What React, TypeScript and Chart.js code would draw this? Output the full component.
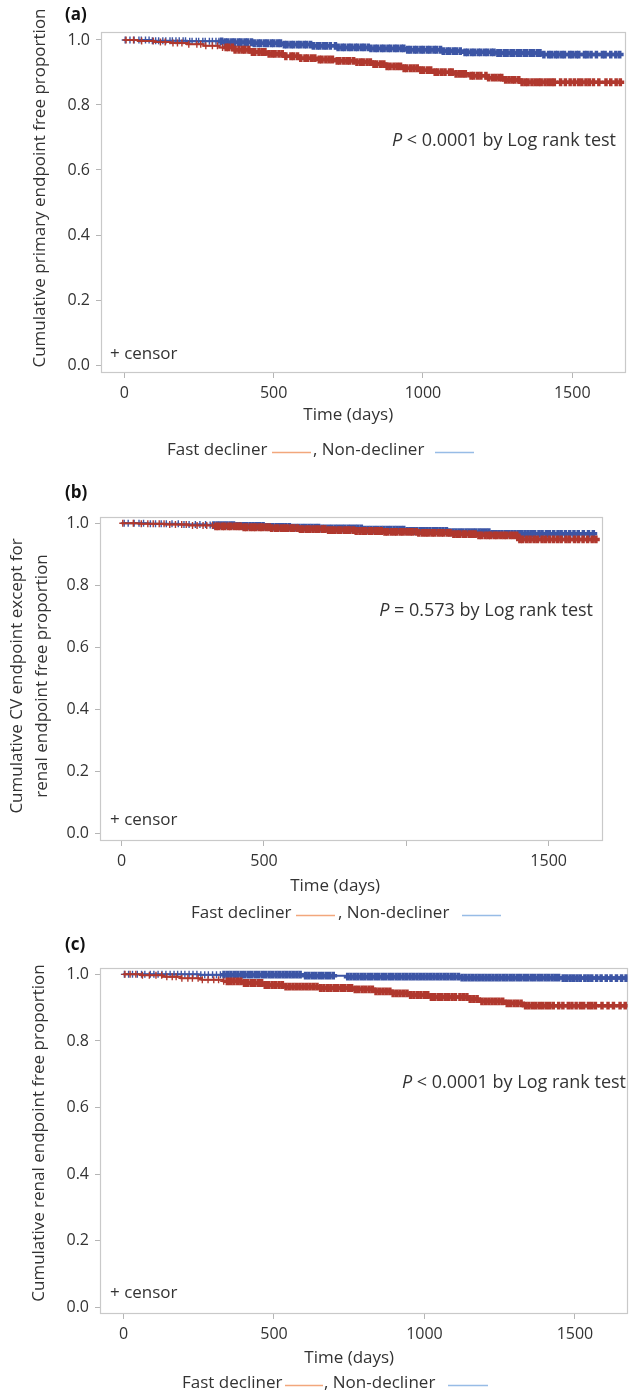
import React, { useEffect, useRef } from 'react';
import { Chart, registerables } from 'chart.js';
Chart.register(...registerables);

const FONT = '"Open Sans", "Noto Sans", sans-serif';
const TEXT = '#333333';
const RED = '#b0382e';
const BLUE = '#3c55a5';
const LEG_RED = '#f2a77c';
const LEG_BLUE = '#97bce6';
const BOX = '#c9c9c9';
const TICK = '#b5b5b5';

// ---- tick values / labels ----
const yTickValues = [0, 0.2, 0.4, 0.6, 0.8, 1.0];
const xTickValues = [0, 500, 1000, 1500];
const xTickLabelsAC = ['0', '500', '1000', '1500'];
const xTickLabelsB = ['0', '500', '', '1500'];

// ---- Panel (a): primary endpoint ----
const aFastTime = [0, 45, 100, 155, 210, 265, 318, 365, 425, 485, 530, 585, 640, 700, 770, 830, 880, 930, 985, 1040, 1100, 1160, 1215, 1275, 1330, 1665];
const aFastSurv = [1.0, 0.997, 0.994, 0.991, 0.987, 0.982, 0.977, 0.97, 0.963, 0.957, 0.95, 0.944, 0.94, 0.936, 0.932, 0.926, 0.919, 0.913, 0.907, 0.901, 0.896, 0.89, 0.884, 0.877, 0.87, 0.87];
const aNonTime = [0, 90, 210, 330, 430, 530, 630, 710, 820, 940, 1060, 1130, 1250, 1400, 1660];
const aNonSurv = [1.0, 0.998, 0.996, 0.993, 0.99, 0.986, 0.982, 0.977, 0.974, 0.97, 0.966, 0.962, 0.96, 0.955, 0.955];
const aFastCensor = [6, 31, 58, 97, 121, 137, 163, 178, 193, 216, 243, 256, 273, 295, 312, 329, 341, 349, 362, 371, 384, 396, 404, 417, 429, 437, 451, 462, 471, 485, 496, 505, 518, 529, 541, 558, 567, 580, 591, 605, 614, 627, 638, 653, 662, 675, 686, 697, 713, 722, 735, 746, 755, 768, 779, 791, 800, 813, 824, 836, 845, 858, 869, 880, 890, 903, 914, 925, 937, 946, 959, 970, 981, 993, 1002, 1015, 1026, 1041, 1050, 1063, 1074, 1089, 1098, 1111, 1122, 1133, 1142, 1161, 1170, 1183, 1194, 1211, 1220, 1233, 1244, 1255, 1264, 1277, 1288, 1299, 1308, 1321, 1332, 1343, 1352, 1365, 1376, 1387, 1396, 1409, 1420, 1431, 1440, 1461, 1477, 1493, 1507, 1521, 1532, 1546, 1557, 1571, 1589, 1613, 1629, 1647, 1661];
const aNonCensor = [3, 19, 33, 49, 57, 71, 83, 94, 105, 115, 129, 139, 153, 161, 173, 184, 197, 205, 219, 227, 241, 249, 263, 271, 285, 295, 307, 317, 326, 338, 347, 360, 369, 382, 391, 404, 413, 426, 435, 448, 457, 470, 479, 492, 501, 514, 523, 536, 545, 558, 567, 580, 589, 602, 611, 624, 633, 646, 655, 668, 677, 690, 707, 716, 729, 738, 751, 760, 773, 782, 795, 804, 817, 826, 839, 848, 861, 870, 883, 892, 905, 914, 927, 936, 949, 958, 971, 980, 993, 1002, 1015, 1024, 1037, 1046, 1059, 1068, 1081, 1090, 1103, 1112, 1125, 1141, 1150, 1163, 1172, 1185, 1194, 1207, 1216, 1229, 1238, 1251, 1260, 1273, 1282, 1295, 1304, 1317, 1326, 1339, 1348, 1361, 1370, 1383, 1392, 1405, 1421, 1430, 1443, 1452, 1465, 1474, 1491, 1500, 1513, 1522, 1541, 1550, 1563, 1581, 1601, 1610, 1629, 1646, 1659];

// ---- Panel (b): CV endpoint except renal ----
const bFastTime = [0, 60, 150, 235, 330, 420, 520, 620, 720, 820, 925, 1040, 1160, 1250, 1395, 1668];
const bFastSurv = [1.0, 0.998, 0.996, 0.993, 0.99, 0.987, 0.984, 0.981, 0.978, 0.975, 0.972, 0.969, 0.965, 0.961, 0.948, 0.948];
const bNonTime = [0, 100, 200, 300, 400, 500, 600, 700, 850, 1000, 1150, 1300, 1668];
const bNonSurv = [1.0, 0.998, 0.996, 0.994, 0.991, 0.988, 0.986, 0.983, 0.979, 0.975, 0.971, 0.966, 0.966];
const bFastCensor = [4, 41, 69, 92, 111, 132, 149, 169, 189, 211, 227, 249, 265, 286, 299, 319, 331, 340, 353, 362, 375, 384, 397, 408, 417, 430, 439, 452, 463, 472, 485, 494, 507, 518, 527, 540, 549, 562, 573, 582, 595, 604, 617, 628, 637, 650, 659, 672, 683, 692, 705, 714, 727, 738, 747, 760, 769, 782, 793, 802, 815, 824, 837, 848, 857, 870, 879, 892, 903, 912, 925, 934, 947, 958, 967, 980, 989, 1002, 1013, 1022, 1035, 1044, 1057, 1068, 1077, 1090, 1099, 1112, 1123, 1132, 1145, 1154, 1167, 1178, 1187, 1200, 1209, 1222, 1233, 1242, 1255, 1264, 1277, 1288, 1297, 1310, 1319, 1332, 1343, 1352, 1365, 1376, 1388, 1399, 1409, 1423, 1435, 1449, 1461, 1477, 1489, 1503, 1517, 1531, 1544, 1561, 1573, 1591, 1605, 1621, 1637, 1653, 1666];
const bNonCensor = [9, 23, 44, 61, 77, 101, 119, 139, 157, 177, 199, 219, 237, 259, 275, 295, 311, 324, 336, 347, 359, 370, 382, 393, 405, 416, 428, 439, 451, 462, 474, 485, 497, 508, 520, 531, 543, 554, 566, 577, 589, 600, 612, 623, 635, 646, 658, 669, 681, 692, 704, 715, 727, 738, 750, 761, 773, 784, 796, 807, 819, 830, 842, 853, 865, 876, 888, 899, 911, 922, 934, 945, 957, 968, 980, 991, 1003, 1014, 1026, 1037, 1049, 1060, 1072, 1083, 1095, 1106, 1118, 1129, 1141, 1152, 1164, 1175, 1187, 1198, 1210, 1221, 1233, 1244, 1256, 1267, 1279, 1290, 1302, 1313, 1325, 1336, 1348, 1359, 1371, 1382, 1394, 1405, 1417, 1428, 1440, 1451, 1466, 1477, 1492, 1503, 1518, 1533, 1544, 1559, 1574, 1589, 1604, 1622, 1640, 1657];

// ---- Panel (c): renal endpoint ----
const cFastTime = [0, 60, 130, 190, 260, 330, 400, 470, 540, 650, 760, 830, 890, 950, 1020, 1150, 1190, 1270, 1330, 1672];
const cFastSurv = [1.0, 0.997, 0.993, 0.988, 0.984, 0.979, 0.974, 0.968, 0.963, 0.959, 0.955, 0.949, 0.943, 0.938, 0.932, 0.926, 0.919, 0.913, 0.906, 0.906];
const cNonTime = [0, 250, 600, 740, 1120, 1450, 1672];
const cNonSurv = [1.0, 0.999, 0.996, 0.993, 0.99, 0.989, 0.989];
const cFastCensor = [5, 22, 41, 63, 86, 108, 127, 144, 162, 175, 194, 214, 229, 248, 262, 281, 300, 316, 333, 345, 356, 367, 379, 390, 402, 413, 425, 436, 448, 459, 471, 482, 494, 505, 517, 528, 540, 551, 563, 574, 586, 597, 609, 620, 632, 643, 655, 666, 678, 689, 701, 712, 724, 735, 747, 758, 770, 781, 793, 804, 816, 827, 839, 850, 862, 873, 885, 896, 908, 919, 931, 942, 954, 965, 977, 988, 1000, 1011, 1023, 1034, 1046, 1057, 1069, 1080, 1092, 1103, 1118, 1129, 1141, 1152, 1164, 1175, 1191, 1202, 1214, 1225, 1237, 1248, 1260, 1275, 1286, 1298, 1309, 1321, 1336, 1347, 1359, 1370, 1382, 1393, 1405, 1416, 1428, 1446, 1460, 1478, 1490, 1504, 1518, 1529, 1545, 1556, 1568, 1590, 1610, 1628, 1650, 1667];
const cNonCensor = [3, 17, 30, 46, 60, 71, 89, 101, 115, 128, 141, 155, 168, 180, 192, 204, 218, 231, 244, 257, 270, 282, 296, 309, 322, 334, 346, 357, 369, 380, 392, 403, 415, 426, 438, 449, 461, 472, 484, 495, 507, 518, 530, 541, 553, 564, 576, 587, 605, 616, 628, 639, 651, 662, 674, 685, 697, 745, 756, 768, 779, 791, 802, 814, 825, 837, 848, 860, 871, 883, 894, 906, 917, 929, 940, 952, 963, 975, 986, 998, 1009, 1021, 1032, 1044, 1055, 1067, 1078, 1090, 1101, 1113, 1125, 1136, 1148, 1159, 1171, 1182, 1194, 1205, 1217, 1228, 1240, 1251, 1263, 1274, 1286, 1297, 1309, 1320, 1332, 1343, 1355, 1366, 1378, 1389, 1401, 1412, 1424, 1435, 1446, 1461, 1472, 1484, 1495, 1507, 1518, 1533, 1544, 1556, 1572, 1587, 1604, 1620, 1638, 1655, 1670];

// ---- helpers ----
function survAt(times: number[], surv: number[], t: number): number {
  let v = surv[0];
  for (let i = 0; i < times.length; i++) {
    if (times[i] <= t) v = surv[i];
    else break;
  }
  return v;
}
const kmPoints = (times: number[], surv: number[]) => times.map((t, i) => ({ x: t, y: surv[i] }));
const censorPoints = (c: number[], times: number[], surv: number[]) => c.map((t) => ({ x: t, y: survAt(times, surv, t) }));

interface Series { time: number[]; surv: number[]; censor: number[]; denseFrom: number }
interface PanelCfg {
  top: number; height: number;
  padding: { left: number; top: number; right: number; bottom: number };
  yWidth: number; xHeight: number;
  xMin: number; xMax: number; yMin: number; yMax: number;
  xLabels: string[];
  fast: Series;
  non: Series;
  label: string; labelY: number;
  yTitle: string[]; yTitleX: number[]; yTitleY: number;
  xTitleY: number;
  pRest: string; pRight: number; pY: number;
  censorY: number;
  legY: number; t1x: number; l1: [number, number]; t2x: number; l2: [number, number];
}

const panels: PanelCfg[] = [
  {
    top: 0, height: 465,
    padding: { left: 0, top: 32, right: 9, bottom: 62 },
    yWidth: 101, xHeight: 30,
    xMin: -78, xMax: 1680, yMin: -0.0246, yMax: 1.0246,
    xLabels: xTickLabelsAC,
    fast: { time: aFastTime, surv: aFastSurv, censor: aFastCensor, denseFrom: 335 },
    non: { time: aNonTime, surv: aNonSurv, censor: aNonCensor, denseFrom: 320 },
    label: '(a)', labelY: 15,
    yTitle: ['Cumulative primary endpoint free proportion'], yTitleX: [40], yTitleY: 188,
    xTitleY: 415,
    pRest: ' < 0.0001 by Log rank test', pRight: 616, pY: 141,
    censorY: 354,
    legY: 450, t1x: 167, l1: [272, 311], t2x: 313, l2: [435, 474],
  },
  {
    top: 465, height: 460,
    padding: { left: 0, top: 51.7, right: 32, bottom: 54 },
    yWidth: 100, xHeight: 30,
    xMin: -76, xMax: 1691, yMin: -0.023, yMax: 1.021,
    xLabels: xTickLabelsB,
    fast: { time: bFastTime, surv: bFastSurv, censor: bFastCensor, denseFrom: 325 },
    non: { time: bNonTime, surv: bNonSurv, censor: bNonCensor, denseFrom: 320 },
    label: '(b)', labelY: 28,
    yTitle: ['Cumulative CV endpoint except for', 'renal endpoint free proportion'], yTitleX: [17, 42], yTitleY: 211,
    xTitleY: 421,
    pRest: ' = 0.573 by Log rank test', pRight: 593, pY: 145.7,
    censorY: 355,
    legY: 448, t1x: 191, l1: [296, 335], t2x: 338, l2: [462, 501],
  },
  {
    top: 925, height: 471,
    padding: { left: 0, top: 42.7, right: 1, bottom: 52 },
    yWidth: 100, xHeight: 30,
    xMin: -78, xMax: 1675, yMin: -0.0195, yMax: 1.02,
    xLabels: xTickLabelsAC,
    fast: { time: cFastTime, surv: cFastSurv, censor: cFastCensor, denseFrom: 340 },
    non: { time: cNonTime, surv: cNonSurv, censor: cNonCensor, denseFrom: 325 },
    label: '(c)', labelY: 20,
    yTitle: ['Cumulative renal endpoint free proportion'], yTitleX: [39], yTitleY: 208,
    xTitleY: 433,
    pRest: ' < 0.0001 by Log rank test', pRight: 626, pY: 157.7,
    censorY: 368,
    legY: 458, t1x: 182, l1: [285, 323], t2x: 324, l2: [448, 488],
  },
];

function decor(cfg: PanelCfg) {
  return {
    id: 'decor',
    beforeDatasetsDraw(chart: any) {
      const { ctx, chartArea: a } = chart;
      ctx.save();
      ctx.strokeStyle = BOX;
      ctx.lineWidth = 1.2;
      ctx.strokeRect(Math.round(a.left) + 0.5, Math.round(a.top) + 0.5, Math.round(a.right - a.left) - 1, Math.round(a.bottom - a.top) - 1);
      ctx.restore();
    },
    afterDraw(chart: any) {
      const { ctx } = chart;
      const xs = chart.scales.x;
      ctx.save();
      ctx.fillStyle = '#111';
      ctx.textBaseline = 'middle';
      // panel label
      ctx.font = `bold 17px ${FONT}`;
      ctx.textAlign = 'left';
      ctx.fillText(cfg.label, 65, cfg.labelY);
      ctx.fillStyle = TEXT;
      ctx.font = `17px ${FONT}`;
      // y title
      cfg.yTitle.forEach((line, i) => {
        ctx.save();
        ctx.translate(cfg.yTitleX[i], cfg.yTitleY);
        ctx.rotate(-Math.PI / 2);
        ctx.textAlign = 'center';
        ctx.fillText(line, 0, 0);
        ctx.restore();
      });
      // x title
      ctx.textAlign = 'center';
      ctx.fillText('Time (days)', xs.getPixelForValue(750), cfg.xTitleY);
      // P value text
      ctx.textAlign = 'left';
      ctx.font = `18px ${FONT}`;
      const wRest = ctx.measureText(cfg.pRest).width;
      ctx.font = `italic 18px ${FONT}`;
      const wP = ctx.measureText('P').width;
      const startX = cfg.pRight - wRest - wP;
      ctx.fillText('P', startX, cfg.pY);
      ctx.font = `18px ${FONT}`;
      ctx.fillText(cfg.pRest, startX + wP, cfg.pY);
      // censor note
      ctx.font = `17px ${FONT}`;
      ctx.fillText('+ censor', 110, cfg.censorY);
      // legend
      ctx.fillText('Fast decliner', cfg.t1x, cfg.legY);
      ctx.fillText(', Non-decliner', cfg.t2x, cfg.legY);
      ctx.lineWidth = 1.3;
      ctx.strokeStyle = LEG_RED;
      ctx.beginPath();
      ctx.moveTo(cfg.l1[0], cfg.legY + 2.5);
      ctx.lineTo(cfg.l1[1], cfg.legY + 2.5);
      ctx.stroke();
      ctx.strokeStyle = LEG_BLUE;
      ctx.beginPath();
      ctx.moveTo(cfg.l2[0], cfg.legY + 2.5);
      ctx.lineTo(cfg.l2[1], cfg.legY + 2.5);
      ctx.stroke();
      ctx.restore();
    },
  };
}

function Panel({ cfg }: { cfg: PanelCfg }) {
  const ref = useRef<HTMLCanvasElement | null>(null);
  useEffect(() => {
    const censorStyle = (color: string, denseFrom: number) => ({
      showLine: false,
      pointStyle: 'cross',
      pointRadius: (c: any) => (c.raw && c.raw.x < denseFrom ? 3.5 : 3.9),
      pointHoverRadius: 3.9,
      pointBorderWidth: (c: any) => (c.raw && c.raw.x < denseFrom ? 1.4 : 3.5),
      pointBorderColor: color,
      pointBackgroundColor: color,
      borderColor: color,
    });
    const lineStyle = (color: string) => ({
      stepped: 'before',
      borderColor: color,
      borderWidth: 2,
      pointRadius: 0,
      fill: false,
    });
    const chart = new Chart(ref.current as HTMLCanvasElement, {
      type: 'line',
      data: {
        datasets: [
          { label: 'Fast decliner censor', data: censorPoints(cfg.fast.censor, cfg.fast.time, cfg.fast.surv), ...censorStyle(RED, cfg.fast.denseFrom) } as any,
          { label: 'Fast decliner', data: kmPoints(cfg.fast.time, cfg.fast.surv), ...lineStyle(RED) } as any,
          { label: 'Non-decliner censor', data: censorPoints(cfg.non.censor, cfg.non.time, cfg.non.surv), ...censorStyle(BLUE, cfg.non.denseFrom) } as any,
          { label: 'Non-decliner', data: kmPoints(cfg.non.time, cfg.non.surv), ...lineStyle(BLUE) } as any,
        ],
      },
      options: {
        animation: false,
        responsive: false,
        devicePixelRatio: 1,
        events: [],
        layout: { padding: cfg.padding },
        plugins: { legend: { display: false }, tooltip: { enabled: false } },
        scales: {
          x: {
            type: 'linear',
            min: cfg.xMin,
            max: cfg.xMax,
            afterBuildTicks: (s: any) => { s.ticks = xTickValues.map((v) => ({ value: v })); },
            afterFit: (s: any) => { s.height = cfg.xHeight; },
            ticks: {
              autoSkip: false,
              maxRotation: 0,
              padding: 6,
              color: TEXT,
              font: { family: FONT, size: 16 },
              callback: (_v: any, i: number) => cfg.xLabels[i],
            },
            grid: { drawOnChartArea: false, drawTicks: true, tickLength: 5, color: TICK },
            border: { display: false },
          },
          y: {
            type: 'linear',
            min: cfg.yMin,
            max: cfg.yMax,
            afterBuildTicks: (s: any) => { s.ticks = yTickValues.map((v) => ({ value: v })); },
            afterFit: (s: any) => { s.width = cfg.yWidth; },
            ticks: {
              autoSkip: false,
              padding: 6,
              color: TEXT,
              font: { family: FONT, size: 16 },
              callback: (v: any) => Number(v).toFixed(1),
            },
            grid: { drawOnChartArea: false, drawTicks: true, tickLength: 5, color: TICK },
            border: { display: false },
          },
        },
      } as any,
      plugins: [decor(cfg)],
    });
    return () => chart.destroy();
  }, []);
  return (
    <canvas
      ref={ref}
      width={635}
      height={cfg.height}
      style={{ position: 'absolute', left: 0, top: cfg.top, display: 'block', width: 635, height: cfg.height }}
    />
  );
}

export default function App() {
  return (
    <div style={{ position: 'absolute', left: 0, top: 0, width: 635, height: 1396, background: '#fff' }}>
      {panels.map((p) => (
        <Panel key={p.label} cfg={p} />
      ))}
    </div>
  );
}
